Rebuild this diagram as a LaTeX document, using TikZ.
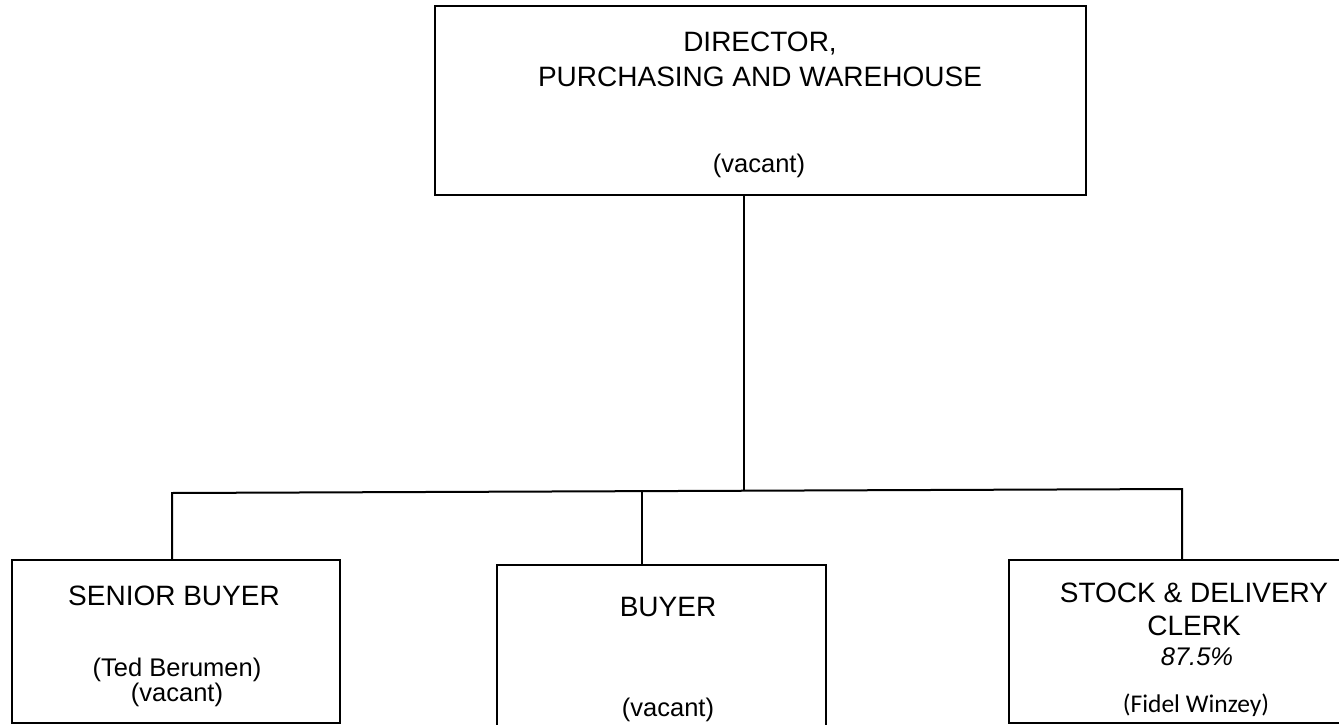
\documentclass[tikz,border=0pt]{standalone}
\usepackage{fontspec}
\setmainfont{Liberation Sans}
\newfontfamily\calib{Carlito}
\begin{document}
\begin{tikzpicture}[x=1pt,y=-1pt,
  box/.style={draw=black,line width=2.2pt,rectangle,inner sep=0pt,outer sep=0pt},
  conn/.style={draw=black,line width=2pt},
  ttl/.style={anchor=base,inner sep=0pt,font=\fontsize{28}{33}\selectfont},
  nm/.style={anchor=base,inner sep=0pt,font=\fontsize{25.5}{30}\selectfont}]
\useasboundingbox (0,0) rectangle (1339,725);
% boxes
\node[box,minimum width=651pt,minimum height=189pt] (dir) at (760.5,100.5) {};
\node[box,minimum width=328pt,minimum height=163pt] (sb) at (176,641.5) {};
\node[box,minimum width=329pt,minimum height=195pt] (by) at (661.5,662.5) {};
\node[box,minimum width=370pt,minimum height=163pt] (sc) at (1194,641.5) {};
% texts
\node[ttl] (dir1) at (760,52) {DIRECTOR,};
\node[ttl] (dir2) at (760,86) {PURCHASING AND WAREHOUSE};
\node[nm] (dir3) at (759,172) {(vacant)};
\node[ttl] (sb1) at (174,605) {SENIOR BUYER};
\node[nm] (sb2) at (177,676) {(Ted Berumen)};
\node[nm] (sb3) at (177,701) {(vacant)};
\node[ttl] (by1) at (668,616) {BUYER};
\node[nm] (by2) at (668,716) {(vacant)};
\node[ttl] (sc1) at (1194,602) {STOCK \& DELIVERY};
\node[ttl] (sc2) at (1194,635) {CLERK};
\node[nm,font=\fontsize{25.5}{30}\selectfont\itshape] (sc3) at (1197,665) {87.5\%};
\node[nm,font=\fontsize{25.5}{30}\selectfont\calib] (sc4) at (1196,712) {(Fidel Winzey)};
% connectors
\coordinate (jT) at (744,491);
\coordinate (busL) at (172,493);
\coordinate (busR) at (1182,489);
\coordinate (jB) at (642,492);
\draw[conn] (jT |- dir.south) -- (jT);
\draw[conn,line join=miter] (busL |- sb.north) -- (busL) -- (busR) -- (busR |- sc.north);
\draw[conn] (jB) -- (jB |- by.north);
\end{tikzpicture}
\end{document}
